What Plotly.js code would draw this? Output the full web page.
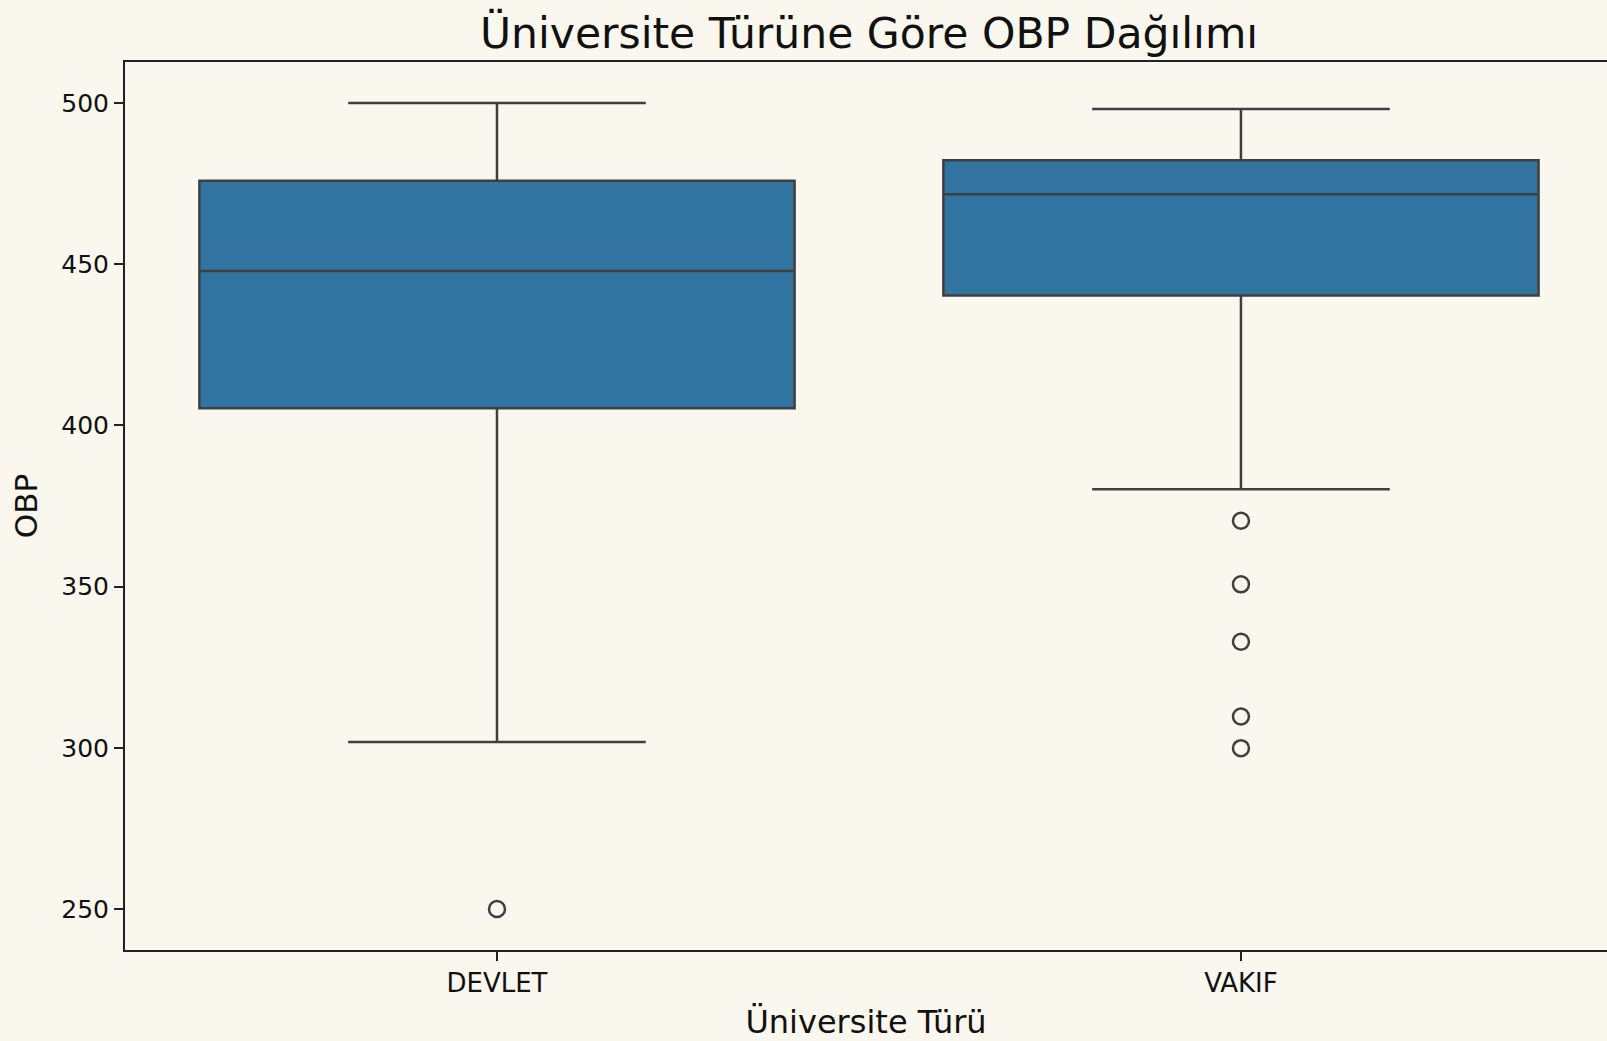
<!DOCTYPE html>
<html>
<head>
<meta charset="utf-8">
<script src="https://cdn.plot.ly/plotly-3.0.1.min.js"></script>
<style>
  body { margin: 0; background: #faf7ee; }
</style>
</head>
<body>
<div id="box-plot"></div>
<script>
// OBP box plot by university type
var categories = ['DEVLET', 'VAKIF']
var q1 = [405.3, 440.3]
var medians = [447.9, 471.7]
var q3 = [475.9, 482.2]
var lowerWhisker = [301.8, 380.2]
var upperWhisker = [500.0, 498.1]

var outlierCategory = ['DEVLET', 'VAKIF', 'VAKIF', 'VAKIF', 'VAKIF', 'VAKIF']
var outlierValues = [250.0, 370.4, 350.7, 332.9, 309.7, 299.9]

var yTicks = [250, 300, 350, 400, 450, 500]

function make_obp_figure() {
    var lineColor = '#3f3f3f'

    var boxes = {
        type: 'box',
        x: categories,
        q1: q1,
        median: medians,
        q3: q3,
        lowerfence: lowerWhisker,
        upperfence: upperWhisker,
        boxpoints: false,
        width: 0.8,
        whiskerwidth: 0.5,
        fillcolor: '#3274a1',
        line: { color: lineColor, width: 2.5 },
        hoverinfo: 'skip',
        showlegend: false
    }

    var outliers = {
        type: 'scatter',
        mode: 'markers',
        x: outlierCategory,
        y: outlierValues,
        marker: {
            symbol: 'circle-open',
            size: 16,
            color: lineColor,
            line: { color: lineColor, width: 2.5 }
        },
        hoverinfo: 'skip',
        showlegend: false
    }

    var layout = {
        width: 1607,
        height: 1041,
        margin: { l: 125, r: 0, t: 62, b: 91 },
        paper_bgcolor: '#faf7ee',
        plot_bgcolor: '#faf7ee',
        font: { family: 'DejaVu Sans', color: '#111111' },
        title: {
            text: 'Üniversite Türüne Göre OBP Dağılımı',
            font: { size: 42.5, color: '#111111' },
            xref: 'container',
            x: 869 / 1607,
            xanchor: 'center',
            yref: 'container',
            y: 1 - 33 / 1041,
            yanchor: 'middle'
        },
        xaxis: {
            type: 'category',
            range: [-0.5, 1.492],
            title: { text: 'Üniversite Türü', font: { size: 32 }, standoff: 13 },
            tickfont: { size: 26 },
            ticks: 'outside',
            ticklen: 9,
            tickwidth: 2,
            tickcolor: '#222222',
            showline: true,
            linecolor: '#222222',
            linewidth: 2,
            mirror: true,
            showgrid: false,
            zeroline: false,
            fixedrange: true
        },
        yaxis: {
            range: [237.3, 512.7],
            tickvals: yTicks,
            title: { text: 'OBP', font: { size: 31 }, standoff: 14 },
            tickfont: { size: 25 },
            ticks: 'outside',
            ticklen: 9,
            tickwidth: 2,
            tickcolor: '#222222',
            showline: true,
            linecolor: '#222222',
            linewidth: 2,
            showgrid: false,
            zeroline: false,
            fixedrange: true
        }
    }

    Plotly.newPlot('box-plot', [boxes, outliers], layout, { displayModeBar: false, staticPlot: true })
}

make_obp_figure()
</script>
</body>
</html>
